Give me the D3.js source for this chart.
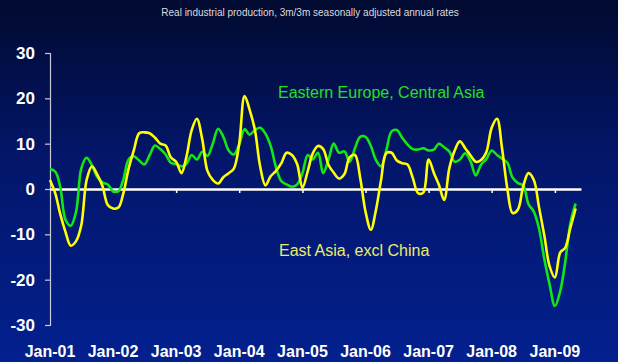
<!DOCTYPE html>
<html>
<head>
<meta charset="utf-8">
<script src="https://cdn.jsdelivr.net/npm/d3@7"></script>
<style>
    body { margin: 0; padding: 0; background: #02114f; }
    svg { display: block; font-family: "Liberation Sans", Arial, sans-serif; }
    .yAxis text { font-size: 17px; font-weight: bold; fill: #ffffff; }
    .xLabels text { font-size: 16px; font-weight: bold; fill: #ffffff; }
</style>
</head>
<body>
<script>
//industrial production chart, two regions, monthly Jan-01 to May-09

//pseudo global variables
var startMonth = new Date(2001, 0, 1);
var yTicks = [-30, -20, -10, 0, 10, 20, 30];
var xTickYears = [2001, 2002, 2003, 2004, 2005, 2006, 2007, 2008, 2009];

//Eastern Europe, Central Asia (green), one value per month
var eeca = [4.4, 3.8, 0.5, -6.8, -8.1, -5, 4.5, 6.9, 5.2, 2.7, 1.4, 1, -0.5, -0.5, 2, 6.5, 7.2, 6.3, 5.4, 7.5,
    9.6, 8.8, 7.6, 5.8, 5.5, 5, 5.5, 7.5, 6.5, 8.2, 7.3, 10, 13.3, 11.5, 8.5, 7.6, 9.8, 13.2, 12, 13,
    13.5, 12.2, 9.5, 4.8, 1.7, 1, 0.5, 1, 3.5, 7.5, 6.5, 8, 3.5, 6.5, 10, 8, 8.3, 6, 9, 11.5,
    11.5, 9.5, 6.5, 5, 8.5, 12.7, 13, 11.3, 9.8, 8.8, 8.7, 9, 8.5, 8.7, 10, 9.2, 8.3, 6, 6.5, 7.9,
    6.1, 3, 5.4, 6.6, 8.5, 7.5, 6.7, 5.8, 2.5, 1.3, 0.8, -3.3, -5, -8.7, -15.5, -21, -25.8, -22.5, -16.3, -7.5,
    -3.2];

//East Asia, excl China (yellow), one value per month
var eastAsia = [2, -1, -5.5, -9.5, -12.5, -11.5, -8, 2, 5, 3.2, 0.6, -3.5, -4.3, -4.1, -1, 4.5, 8.5, 12.3, 12.5, 12.3,
    11.3, 10, 9.6, 7, 6, 3.5, 7, 13, 15.5, 11, 4, 2, 1.2, 2.6, 3.5, 4.5, 10, 20.5, 17.5, 13,
    5, 0.8, 2.8, 4, 5.7, 8, 7.5, 5.5, 0.3, 4, 7.8, 9.5, 8.8, 5.3, 3.6, 2.3, 3.3, 7, 7.5, 2.5,
    -5, -9, -4.9, 2, 7.9, 8, 6.3, 5.7, 5.4, 2.5, -0.9, -0.8, 6.5, 3.5, 1, -2.4, 4.6, 8.5, 10.5, 9,
    7.4, 6, 6.4, 8.1, 13.5, 15.5, 9, 0, -5.3, -4.5, 0.5, 3.5, 2, -4, -10.3, -17, -19.5, -14, -13, -8.5,
    -4.3];

//frame dimensions
var width = 618,
    height = 362,
    leftEdge = 50,
    rightEdge = 581,
    topEdge = 53,
    bottomEdge = 325;

window.onload = setChart();

function setChart(){
    var svg = d3.select("body")
        .append("svg")
        .attr("width", width)
        .attr("height", height);

    //background gradient, dark navy at top to blue at bottom
    var grad = svg.append("defs")
        .append("linearGradient")
        .attr("id", "bg")
        .attr("x1", 0).attr("y1", 0)
        .attr("x2", 0).attr("y2", 1);
    grad.append("stop").attr("offset", "0%").attr("stop-color", "#010a30");
    grad.append("stop").attr("offset", "45%").attr("stop-color", "#03166b");
    grad.append("stop").attr("offset", "100%").attr("stop-color", "#02208f");

    svg.append("rect")
        .attr("width", width)
        .attr("height", height)
        .attr("fill", "url(#bg)");

    //scales; x runs one month past the last data point
    var x = d3.scaleTime()
        .domain([startMonth, d3.timeMonth.offset(startMonth, 101)])
        .range([leftEdge, rightEdge]);

    var y = d3.scaleLinear()
        .domain([-30, 30])
        .range([bottomEdge, topEdge]);

    //title
    svg.append("text")
        .attr("x", 310)
        .attr("y", 16)
        .attr("text-anchor", "middle")
        .style("font-size", "10px")
        .style("fill", "#dcdcdc")
        .text("Real industrial production, 3m/3m seasonally adjusted annual rates");

    //vertical axis, plain hyphen for negatives
    var yAxis = d3.axisLeft(y)
        .tickValues(yTicks)
        .tickSize(5)
        .tickPadding(10)
        .tickFormat(function(d){ return String(d); });

    var yg = svg.append("g")
        .attr("class", "yAxis")
        .attr("transform", "translate(" + leftEdge + ",0)")
        .call(yAxis);
    yg.selectAll("path, line").attr("stroke", "#c8c8d8").attr("stroke-width", 1.2);

    //zero line with yearly ticks
    var zeroAxis = d3.axisBottom(x)
        .tickValues(xTickYears.slice(1).map(function(yr){ return new Date(yr, 0, 1); }))
        .tickSize(4)
        .tickSizeOuter(0)
        .tickFormat("");

    var zg = svg.append("g")
        .attr("transform", "translate(0," + y(0) + ")")
        .call(zeroAxis);
    zg.select(".domain").attr("stroke", "#ffffff").attr("stroke-width", 2.5);
    zg.selectAll(".tick line").attr("stroke", "#ffffff").attr("stroke-width", 1.5);

    //month labels along the bottom
    var xLabels = svg.append("g")
        .attr("class", "xLabels")
        .selectAll("text")
        .data(xTickYears)
        .enter()
        .append("text")
        .attr("x", function(d){ return x(new Date(d, 0, 1)); })
        .attr("y", 357)
        .attr("text-anchor", "middle")
        .text(function(d){ return d3.timeFormat("Jan-%y")(new Date(d, 0, 1)); });

    //smoothed lines like the original
    var line = d3.line()
        .x(function(d, i){ return x(d3.timeMonth.offset(startMonth, i)); })
        .y(function(d){ return y(d); })
        .curve(d3.curveCatmullRom.alpha(0.5));

    svg.append("path")
        .datum(eeca)
        .attr("fill", "none")
        .attr("stroke", "#14e614")
        .attr("stroke-width", 2.6)
        .attr("d", line);

    svg.append("path")
        .datum(eastAsia)
        .attr("fill", "none")
        .attr("stroke", "#ffff00")
        .attr("stroke-width", 2.6)
        .attr("d", line);

    //series labels
    svg.append("text")
        .attr("x", 278)
        .attr("y", 98)
        .style("font-size", "16px")
        .style("fill", "#22e022")
        .text("Eastern Europe, Central Asia");

    svg.append("text")
        .attr("x", 279)
        .attr("y", 256)
        .style("font-size", "16px")
        .style("fill", "#ecec6a")
        .text("East Asia, excl China");
};
</script>
</body>
</html>
